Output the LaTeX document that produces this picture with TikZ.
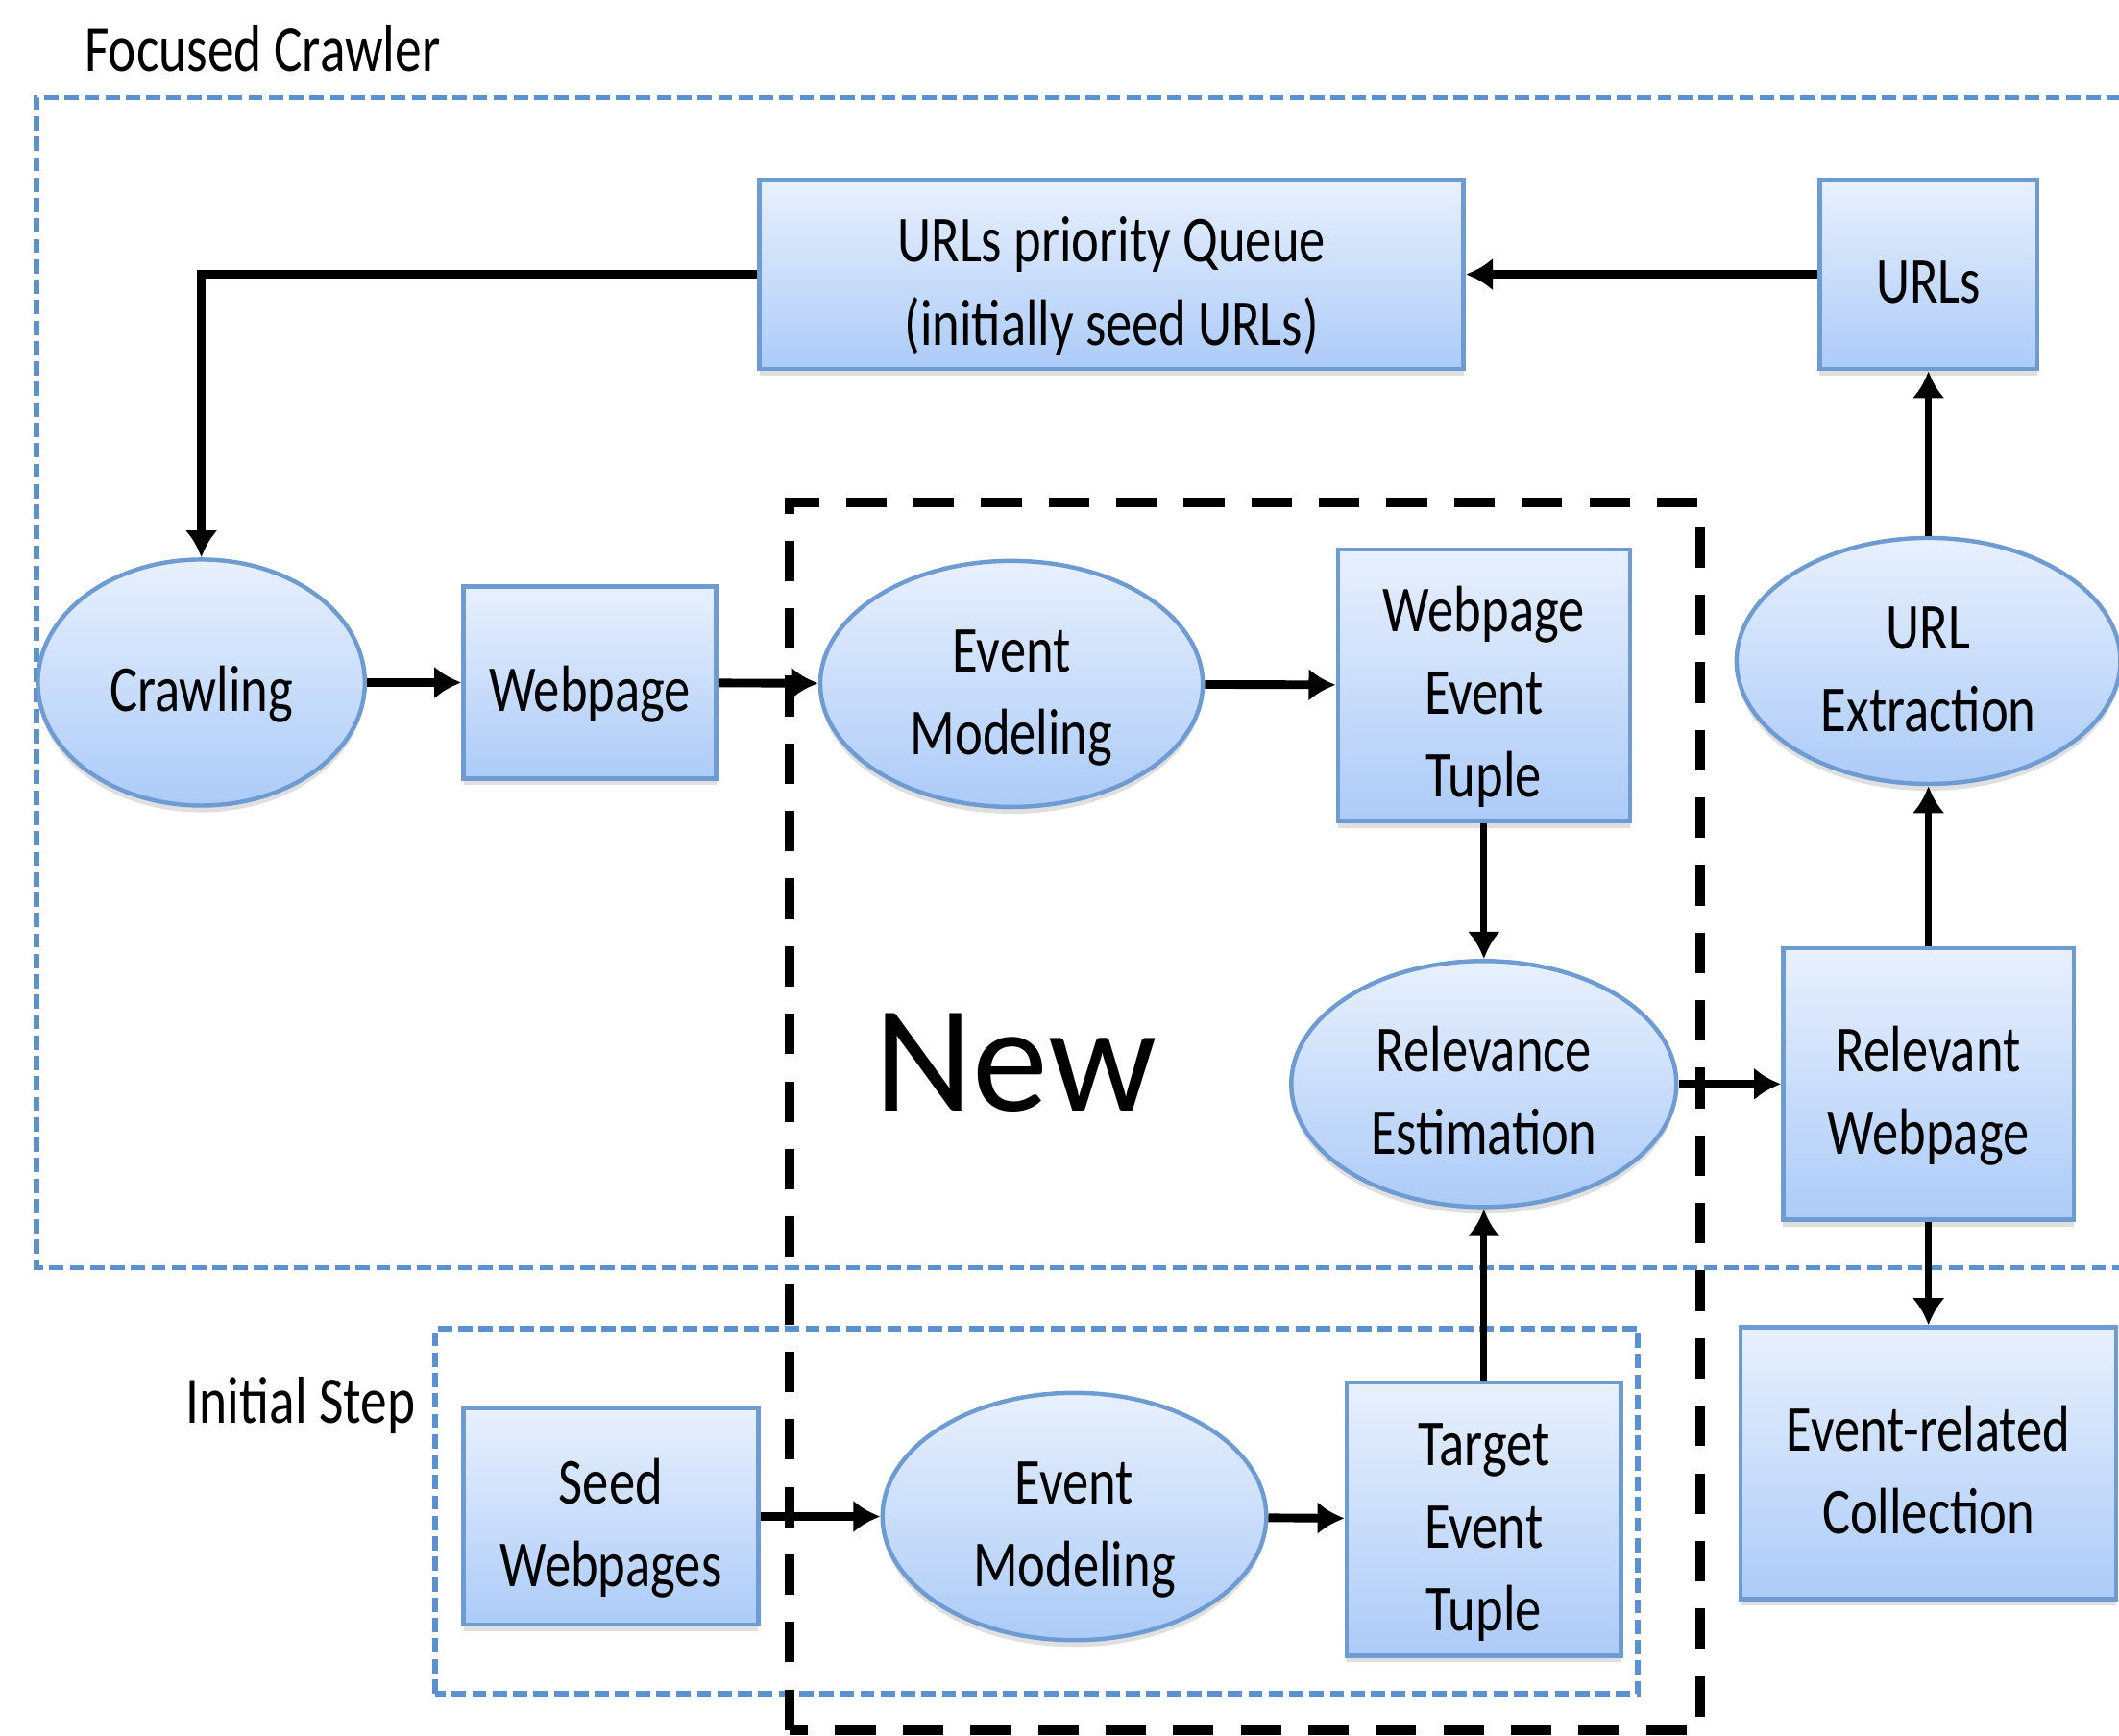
\documentclass[tikz,border=0pt]{standalone}
\usepackage{fontspec}
\setmainfont{Carlito}[FakeStretch=0.8]
\newfontfamily\titlefont{Carlito}
\usepackage{tikz}
\usetikzlibrary{arrows.meta,shapes.geometric,shadows}

\definecolor{boxline}{RGB}{110,156,210}
\definecolor{boxtop}{RGB}{232,240,253}
\definecolor{boxbot}{RGB}{172,203,248}
\definecolor{frameblue}{RGB}{92,145,207}

\begin{document}
\begin{tikzpicture}[
  box/.style={draw=boxline, line width=0.9pt, top color=boxtop, bottom color=boxbot,
    align=center, inner sep=0pt, font=\fontsize{13.8}{17.4}\selectfont, text depth=0pt,
    drop shadow={shadow xshift=0pt, shadow yshift=-0.05cm, opacity=0.25}},
  oval/.style={box, ellipse},
  oneline/.style={text height=12.3pt},
  twoline/.style={text height=29.7pt},
  threeline/.style={text height=47.1pt},
  flow/.style={line width=1.8pt, -{Latex[length=0.2cm,width=0.24cm]}},
  vflow/.style={flow, line width=1.5pt},
  frame/.style={draw=frameblue, line width=1.1pt, dash pattern=on 3pt off 1.3pt},
  newframe/.style={draw=black, line width=2pt, dash pattern=on 0.3cm off 0.2cm},
  label/.style={inner sep=0pt, font=\fontsize{14}{17}\selectfont},
]
\useasboundingbox (0,0) rectangle (15.68,12.84);

%枠%
\draw[frame] (16.3,12.12) -- (0.27,12.12) -- (0.27,3.46) -- (16.3,3.46);
\draw[frame] (3.22,0.31) rectangle (12.12,3.01);
\node[label, anchor=base west] (crawlerlabel) at (0.62,12.31) {Focused Crawler};
\node[label, anchor=base east] (initlabel) at (3.08,2.31) {Initial Step};

%上段%
\node[box, twoline, minimum width=5.21cm, minimum height=1.40cm] (queue) at (8.225,10.81) {URLs priority Queue\\(initially seed URLs)};
\node[box, oneline, minimum width=1.61cm, minimum height=1.40cm] (urls) at (14.27,10.81) {URLs};

%中段%
\node[oval, oneline, minimum width=2.42cm, minimum height=1.82cm] (crawl) at (1.49,7.79) {Crawling};
\node[box, oneline, minimum width=1.87cm, minimum height=1.42cm] (page) at (4.365,7.79) {Webpage};
\node[oval, twoline, minimum width=2.83cm, minimum height=1.82cm] (model) at (7.485,7.78) {Event\\Modeling};
\node[box, threeline, minimum width=2.16cm, minimum height=2.01cm] (pagetuple) at (10.98,7.77) {Webpage\\Event\\Tuple};
\node[oval, twoline, minimum width=2.84cm, minimum height=1.82cm] (extract) at (14.27,7.95) {URL\\Extraction};
\node[oval, twoline, minimum width=2.85cm, minimum height=1.82cm] (relev) at (10.98,4.82) {Relevance\\Estimation};
\node[box, twoline, minimum width=2.15cm, minimum height=2.01cm] (relpage) at (14.27,4.82) {Relevant\\Webpage};
\node[box, twoline, minimum width=2.78cm, minimum height=2.01cm] (collect) at (14.27,2.015) {Event-related\\Collection};

%下段%
\node[box, twoline, minimum width=2.18cm, minimum height=1.60cm] (seed) at (4.52,1.62) {Seed\\Webpages};
\node[oval, twoline, minimum width=2.84cm, minimum height=1.83cm] (model2) at (7.95,1.62) {Event\\Modeling};
\node[box, threeline, minimum width=2.03cm, minimum height=2.02cm] (target) at (10.98,1.60) {Target\\Event\\Tuple};

%New%
\draw[newframe] (5.84,0.04) rectangle (12.58,9.12);
\node[inner sep=0pt, anchor=base, font=\titlefont\fontsize{32}{38}\selectfont] (newlabel) at (7.515,4.62) {New};

%矢印%
\draw[flow] (urls) -- (queue);
\draw[flow] (queue.west) -| (crawl.north);
\draw[flow] (crawl) -- (page);
\draw[flow] (page) -- (model);
\draw[flow] (model) -- (pagetuple);
\draw[vflow] (pagetuple) -- (relev);
\draw[flow] (relev) -- (relpage);
\draw[vflow] (relpage) -- (extract);
\draw[vflow] (extract) -- (urls);
\draw[vflow] (relpage) -- (collect);
\draw[flow] (seed) -- (model2);
\draw[flow] (model2) -- (target);
\draw[vflow] (target) -- (relev);
\end{tikzpicture}
\end{document}
